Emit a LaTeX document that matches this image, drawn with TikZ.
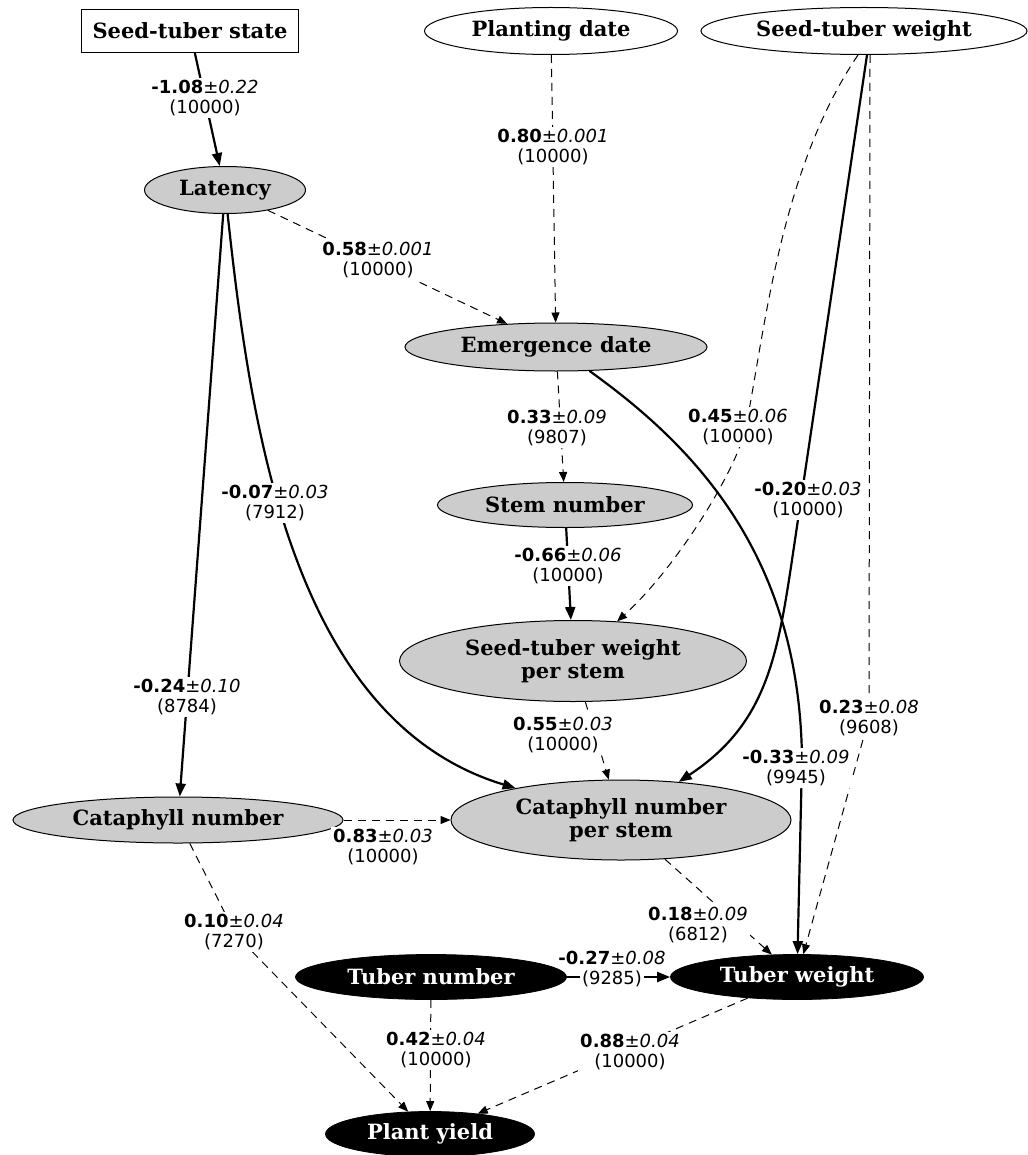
\documentclass[tikz,border=0pt]{standalone}
\usepackage{fontspec}
\setmainfont{DejaVu Serif}
\setsansfont{DejaVu Sans}
\usepackage{tikz}
\usetikzlibrary{shapes.geometric,arrows.meta}
\setlength{\fboxsep}{1pt}

\begin{document}
\begin{tikzpicture}[
  x=0.5pt,
  y=-0.5pt,
  every node/.style={font=\fontsize{10.5}{11.5}\selectfont\bfseries, align=center},
  var/.style={ellipse, draw, line width=0.5pt, fill=gray!40, inner sep=0pt},
  obs/.style={ellipse, draw, line width=0.5pt, fill=white, inner sep=0pt},
  yld/.style={ellipse, draw, fill=black, text=white, inner sep=0pt},
  lab/.style={font=\sffamily\fontsize{9}{10}\selectfont, fill=white, inner sep=1pt},
  sig/.style={line width=1.1pt, -{Triangle[length=6.5pt,width=5pt]}},
  nsig/.style={line width=0.5pt, dash pattern=on 4pt off 3pt, -{Triangle[length=5pt,width=4pt]}},
]
\path[use as bounding box] (0,0) rectangle (1027,1155);

\newcommand{\coeflab}[3]{\textbf{#1}±\textit{#2}\\(#3)}

% Inputs.
\node[draw, line width=0.5pt, fill=white, minimum width=108.5pt, minimum height=21.5pt, inner sep=0pt] (state) at (190,31) {Seed-tuber state};
\node[obs, minimum width=126.5pt, minimum height=23.5pt] (plant) at (551,31) {Planting date};
\node[obs, minimum width=163pt, minimum height=23.5pt] (stw) at (864,31) {Seed-tuber weight};

% Intermediate traits.
\node[var, minimum width=80.5pt, minimum height=23.5pt] (lat) at (225,190) {Latency};
\node[var, minimum width=151pt, minimum height=24pt] (emg) at (556,347) {Emergence date};
\node[var, minimum width=127.5pt, minimum height=22.5pt] (stem) at (565,505) {Stem number};
\node[var, minimum width=173.5pt, minimum height=40.5pt] (swps) at (573,661) {Seed-tuber weight\\per stem};
\node[var, minimum width=165pt, minimum height=23pt] (cat) at (178,820) {Cataphyll number};
\node[var, minimum width=170pt, minimum height=40pt] (cps) at (621,820) {Cataphyll number\\per stem};

% Yield components.
\node[yld, minimum width=135.5pt, minimum height=22.5pt] (tn) at (431,977) {Tuber number};
\node[yld, minimum width=126.5pt, minimum height=22.5pt] (tw) at (797,977) {Tuber weight};
\node[yld, minimum width=104.5pt, minimum height=22.5pt] (py) at (430,1134) {Plant yield};

% Paths.
\draw[sig] (state) -- (lat);
\draw[nsig] (plant) -- (emg);
\draw[nsig] (lat) -- (emg);
\draw[sig] (lat) -- (cat);
\draw[sig] (lat) .. controls (250,420) and (290,720) .. (cps);
\draw[nsig] (emg) -- (stem);
\draw[sig] (emg) .. controls (700,450) and (800,560) .. (802,760) -- (tw);
\draw[nsig] ([xshift=-3pt]stw.south) .. controls (780,170) and (765,330) .. (745,432)
  .. controls (730,482) and (672,572) .. (swps);
\draw[sig] ([xshift=1.5pt]stw.south) -- (792,560) .. controls (777,660) and (765,725) .. (cps);
\draw[nsig] ([xshift=3pt]stw.south) -- (869,718) -- (tw);
\draw[sig] (stem) -- (swps);
\draw[nsig] (swps) -- (cps);
\draw[nsig] (cat) -- (cps);
\draw[nsig] (cat) -- (236,935) -- (py);
\draw[nsig] (cps) -- (tw);
\draw[sig] (tn) -- (tw);
\draw[nsig] (tn) -- (py);
\draw[nsig] (tw) -- (py);

% Coefficients.
\node[lab] (l1) at (205,98) {\coeflab{-1.08}{0.22}{10000}};
\node[lab] (l2) at (553,147) {\coeflab{0.80}{0.001}{10000}};
\node[lab] (l3) at (378,260) {\coeflab{0.58}{0.001}{10000}};
\node[lab] (l4) at (187,697) {\coeflab{-0.24}{0.10}{8784}};
\node[lab] (l5) at (275,503) {\coeflab{-0.07}{0.03}{7912}};
\node[lab] (l6) at (557,428) {\coeflab{0.33}{0.09}{9807}};
\node[lab] (l7) at (796,768) {\coeflab{-0.33}{0.09}{9945}};
\node[lab] (l8) at (738,427) {\coeflab{0.45}{0.06}{10000}};
\node[lab] (l9) at (808,500) {\coeflab{-0.20}{0.03}{10000}};
\node[lab] (l10) at (869,718) {\coeflab{0.23}{0.08}{9608}};
\node[lab] (l11) at (568,566) {\coeflab{-0.66}{0.06}{10000}};
\node[lab] (l12) at (563,735) {\coeflab{0.55}{0.03}{10000}};
\node[lab] (l13) at (383,847) {\coeflab{0.83}{0.03}{10000}};
\node[lab] (l14) at (234,932) {\coeflab{0.10}{0.04}{7270}};
\node[lab] (l15) at (698,925) {\coeflab{0.18}{0.09}{6812}};
\node[lab, fill=none] (l16) at (612,970) {\textbf{-0.27}±\textit{0.08}\\\colorbox{white}{(9285)}};
\node[lab] (l17) at (436,1050) {\coeflab{0.42}{0.04}{10000}};
\node[lab] (l18) at (630,1052) {\coeflab{0.88}{0.04}{10000}};

\end{tikzpicture}
\end{document}
